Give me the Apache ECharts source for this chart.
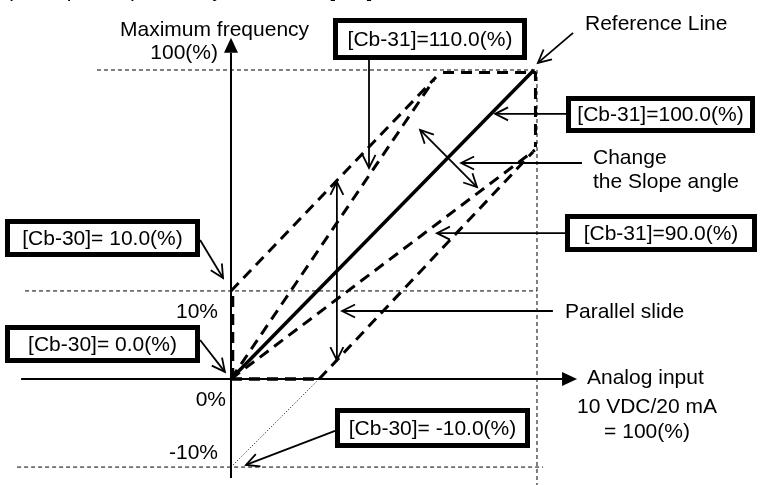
<!DOCTYPE html>
<html><head><meta charset="utf-8">
<script src="https://cdn.jsdelivr.net/npm/echarts@6/dist/echarts.min.js"></script>
<style>html,body{margin:0;padding:0;background:#fff}#c{width:760px;height:485px}</style>
</head><body><div id="c"></div>
<script>
// ---- Diagram data (schematic units: x = analog input %, y = output %) ----
const refLine          = [[0, 0], [99, 100]];
const slidePlus10Line  = [[0, 28.5], [67.0, 97.7]];
const gain110Line      = [[0, 0], [66.3, 96.8]];
const gain90Line       = [[0, 0], [99.3, 74.1]];
const slideMinus10Line = [[28.8, 0], [98.7, 73.5]];
const slideMinus10Ext  = [[0, -28.5], [28.8, 0]];
const clampTop         = [[69.3, 99.2], [99.5, 99.2], [99.5, 75.1]];
const clampZero        = [[0, 0], [27.5, 0]];
const clampBias        = [[0.5, 0], [0.5, 28.5]];
const levelMax         = [[-43.8, 100], [100, 100]];
const level10          = [[-67.3, 28.5], [100, 28.5]];
const levelMinus10     = [[-69.9, -28.5], [102, -28.5]];
const inputMax         = [[100, 100], [100, -34.3]];
const axisX            = [[-68.6, 0], [113.1, 0]];
const axisY            = [[0, -32.0], [0, 110.4]];
// callout arrows: x1, y1, x2, y2, headAtStart, headAtEnd
const callouts = [
  [111.8, 112.0, 100.3, 102.3, 0, 1],
  [45.1, 103.6, 45.1, 68.3, 0, 1],
  [109.8, 85.8, 86.3, 85.8, 0, 1],
  [114.7, 69.9, 75.2, 69.9, 0, 1],
  [61.8, 80.6, 80.4, 62.1, 1, 1],
  [109.2, 47.2, 67.3, 47.2, 0, 1],
  [105.2, 22.0, 36.3, 22.0, 0, 1],
  [34.6, 63.8, 34.6, 6.1, 1, 1],
  [-10.1, 45.0, -2.6, 32.7, 0, 1],
  [-10.1, 12.6, -2.0, 2.3, 0, 1],
  [34.0, -16.8, 4.9, -27.8, 0, 1]
];
const tickLabels = ['100(%)', '10%', '0%', '-10%'];
const boxLabels = ['[Cb-31]=110.0(%)', '[Cb-31]=100.0(%)', '[Cb-31]=90.0(%)',
                   '[Cb-30]= 10.0(%)', '[Cb-30]= 0.0(%)', '[Cb-30]= -10.0(%)'];
const titleText = '(Example 1-1) Fine adjustment for [AI1].';

const FONT = '21px "Liberation Sans", Arial, sans-serif';
const chart = echarts.init(document.getElementById('c'), null, {renderer: 'canvas'});

function lineSeries(data, width, dash) {
  return {type: 'line', data: data, symbol: 'none', silent: true, clip: false,
    lineStyle: {color: '#000', width: width, type: dash || 'solid', cap: 'butt'}};
}
function arrowItem(params, api, filled) {
  const p1 = api.coord([api.value(0), api.value(1)]);
  const p2 = api.coord([api.value(2), api.value(3)]);
  const hs = api.value(4), he = api.value(5);
  const L = filled ? 15 : 13, W = filled ? 7 : 6.5;
  const children = [];
  let a = p1.slice(), b = p2.slice();
  function head(tip, from) {
    const dx = tip[0] - from[0], dy = tip[1] - from[1];
    const len = Math.sqrt(dx * dx + dy * dy);
    const ux = dx / len, uy = dy / len, nx = -uy, ny = ux;
    const bx = tip[0] - L * ux, by = tip[1] - L * uy;
    const pts = [[bx + W * nx, by + W * ny], tip, [bx - W * nx, by - W * ny]];
    if (filled) {
      children.push({type: 'polygon', shape: {points: pts}, style: {fill: '#000'}});
      return [bx, by];
    }
    children.push({type: 'polyline', shape: {points: pts}, style: {stroke: '#000', lineWidth: 1.8, fill: null}});
    return tip;
  }
  if (he) b = head(p2, p1);
  if (hs) a = head(p1, p2);
  children.unshift({type: 'line', shape: {x1: a[0], y1: a[1], x2: b[0], y2: b[1]},
    style: {stroke: '#000', lineWidth: filled ? 2 : 1.8}});
  return {type: 'group', children: children};
}

const boxes = [
  [333, 18, 194, 42], [566, 96, 189, 37], [565, 214, 192, 38],
  [5, 219, 195, 38], [5, 325, 195, 38], [335, 408, 195, 40]
];
const graphics = [];
boxes.forEach(function (b, i) {
  graphics.push({type: 'rect', shape: {x: b[0] + 2.5, y: b[1] + 2.5, width: b[2] - 5, height: b[3] - 5},
    style: {fill: '#fff', stroke: '#000', lineWidth: 5}, z: 10});
  graphics.push({type: 'text', x: b[0] + b[2] / 2, y: b[1] + b[3] / 2 + 1,
    style: {text: boxLabels[i], font: FONT, fill: '#000', align: 'center', verticalAlign: 'middle'}, z: 11});
});
function txt(s, x, y, align) {
  graphics.push({type: 'text', x: x, y: y,
    style: {text: s, font: FONT, fill: '#000', align: align || 'left', verticalAlign: 'middle'}, z: 11});
}
txt(titleText, 6, -9, 'left');
txt('Maximum frequency', 120, 30, 'left');
txt(tickLabels[0], 218, 53, 'right');
txt('Reference Line', 585, 24, 'left');
txt('Change', 593, 158, 'left');
txt('the Slope angle', 593, 182, 'left');
txt('Parallel slide', 565, 312, 'left');
txt(tickLabels[1], 218, 312, 'right');
txt(tickLabels[2], 226, 400, 'right');
txt(tickLabels[3], 218, 453, 'right');
txt('Analog input', 587, 378, 'left');
txt('10 VDC/20 mA', 647, 407, 'center');
txt('= 100(%)', 647, 432, 'center');

const THIN = [4, 3], THICK = [11, 7], DOT = [1, 2];
chart.setOption({
  animation: false,
  backgroundColor: '#fff',
  grid: {left: 0, right: 0, top: 0, bottom: 0},
  xAxis: {type: 'value', min: -75.49, max: 172.88, show: false},
  yAxis: {type: 'value', min: -34.30, max: 122.65, show: false},
  graphic: graphics,
  series: [
    lineSeries(levelMax, 1, THIN),
    lineSeries(level10, 1, THIN),
    lineSeries(levelMinus10, 1, THIN),
    lineSeries(inputMax, 1, THIN),
    lineSeries(slideMinus10Ext, 1, DOT),
    {type: 'custom', data: [axisX[0].concat(axisX[1], [0, 1]), axisY[0].concat(axisY[1], [0, 1])],
      renderItem: function (p, api) { return arrowItem(p, api, true); }, silent: true, clip: false},
    lineSeries(refLine, 3.5),
    lineSeries(slidePlus10Line, 3, THICK),
    lineSeries(gain110Line, 3, THICK),
    lineSeries(gain90Line, 3, THICK),
    lineSeries(slideMinus10Line, 3, THICK),
    lineSeries(clampTop, 3, THICK),
    lineSeries(clampZero, 3.5, THICK),
    lineSeries(clampBias, 3.5, THICK),
    {type: 'custom', data: callouts,
      renderItem: function (p, api) { return arrowItem(p, api, false); }, silent: true, clip: false}
  ]
});
</script></body></html>
